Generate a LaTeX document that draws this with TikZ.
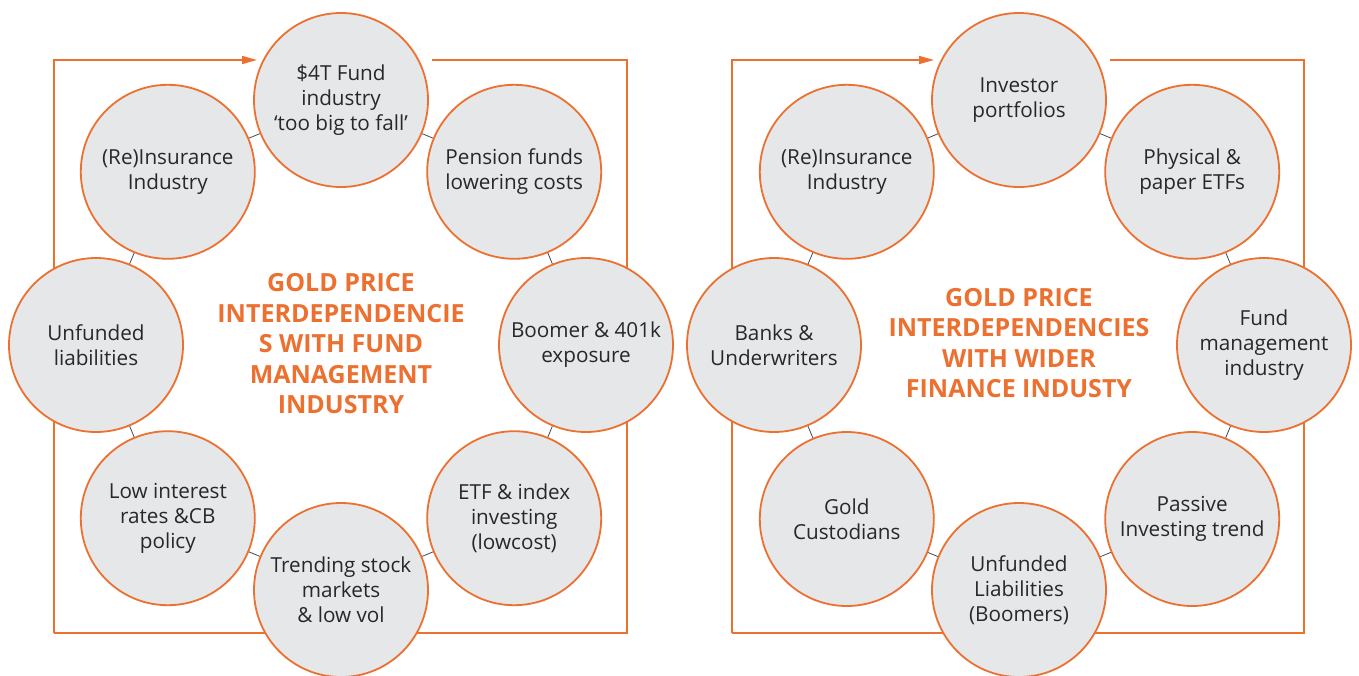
\documentclass[tikz,border=0pt]{standalone}
\usepackage{fontspec}
\setmainfont{Open Sans}
\usetikzlibrary{arrows.meta}
\definecolor{ringorange}{RGB}{236,112,48}
\definecolor{bubblefill}{RGB}{230,231,232}
\definecolor{bubbletext}{RGB}{40,40,40}
\definecolor{linkgray}{RGB}{70,75,80}
\tikzset{
  bubble/.style={circle, draw=ringorange, line width=1.8pt, fill=bubblefill,
    minimum size=174pt, inner sep=0pt, align=center, text=bubbletext,
    font=\fontsize{20.7}{24.8}\selectfont},
  frame/.style={draw=ringorange, line width=1.6pt},
  link/.style={draw=linkgray, line width=0.8pt},
  heading/.style={align=center, text=ringorange,
    font=\fontsize{25}{30.5}\selectfont\bfseries}
}
\begin{document}
\begin{tikzpicture}[x=1pt,y=-1pt]
\clip (0,0) rectangle (1359,675);
\fill[white] (0,0) rectangle (1359,675);

% ---- left frame ----
\draw[frame, -{Triangle[length=15pt,width=8pt]}] (54,633) -- (54,60) -- (257,60);
\draw[frame] (432,60) -- (627,60) -- (627,633) -- (54,633);

% ---- right frame ----
\draw[frame, -{Triangle[length=15pt,width=8pt]}] (732,633) -- (732,60) -- (934,60);
\draw[frame] (1110,60) -- (1304,60) -- (1304,633) -- (732,633);

% ---- left ring ----
\node[bubble] (a1) at (341,100) {\$4T Fund\\industry\\‘too big to fall’};
\node[bubble] (a2) at (514.2,171.8) {Pension funds\\lowering costs};
\node[bubble] (a3) at (586,345) {Boomer \& 401k\\exposure};
\node[bubble] (a4) at (514.2,518.2) {ETF \& index\\investing\\(lowcost)};
\node[bubble] (a5) at (341,590) {Trending stock\\markets\\\& low vol};
\node[bubble] (a6) at (167.8,518.2) {Low interest\\rates \&CB\\policy};
\node[bubble] (a7) at (96,345) {Unfunded\\liabilities};
\node[bubble] (a8) at (167.8,171.8) {(Re)Insurance\\Industry};
\foreach \p/\q in {a1/a2,a2/a3,a3/a4,a4/a5,a5/a6,a6/a7,a7/a8,a8/a1}
  \draw[link] (\p) -- (\q);
\node[heading] (ta) at (341,344) {GOLD PRICE\\INTERDEPENDENCIE\\S WITH FUND\\MANAGEMENT\\INDUSTRY};

% ---- right ring ----
\node[bubble] (b1) at (1019,100) {Investor\\portfolios};
\node[bubble] (b2) at (1192.2,171.8) {Physical \&\\paper ETFs};
\node[bubble] (b3) at (1264,345) {Fund\\management\\industry};
\node[bubble] (b4) at (1192.2,519) {Passive\\Investing trend};
\node[bubble] (b5) at (1019,590) {Unfunded\\Liabilities\\(Boomers)};
\node[bubble] (b6) at (846.8,519) {Gold\\Custodians};
\node[bubble] (b7) at (774,345) {Banks \&\\Underwriters};
\node[bubble] (b8) at (846.8,171.8) {(Re)Insurance\\Industry};
\foreach \p/\q in {b1/b2,b2/b3,b3/b4,b4/b5,b5/b6,b6/b7,b7/b8,b8/b1}
  \draw[link] (\p) -- (\q);
\node[heading] (tb) at (1019,343) {GOLD PRICE\\INTERDEPENDENCIES\\WITH WIDER\\FINANCE INDUSTY};
\end{tikzpicture}
\end{document}
